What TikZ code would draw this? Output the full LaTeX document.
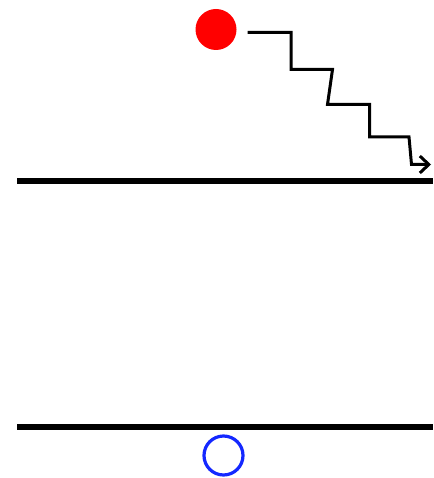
\documentclass[tikz,border=0pt]{standalone}
\usetikzlibrary{arrows.meta}
\begin{document}
\begin{tikzpicture}[x=1pt,y=-1pt,
  band/.style={line width=6pt},
  stair/.style={line width=3pt,-{Straight Barb[length=9pt,width=17pt,line width=3pt]}}]
\useasboundingbox (0,0) rectangle (433,478);
\fill[white] (0,0) rectangle (433,478);
\node[circle,fill=red,minimum size=41pt,inner sep=0pt] (e) at (216,29.5) {};
\node[circle,draw={rgb,255:red,20;green,40;blue,255},line width=3.2pt,minimum size=39pt,inner sep=0pt] (h) at (223.5,455.5) {};
\coordinate (tl) at (17,181.5);
\coordinate (tr) at (433,181.5);
\coordinate (bl) at (17,426.5);
\coordinate (br) at (433,426.5);
\draw[band] (tl) -- (tr);
\draw[band] (bl) -- (br);
\coordinate (s0) at (247.5,32.5);
\coordinate (s1) at (291,32.5);
\coordinate (s2) at (291,69.5);
\coordinate (s3) at (332.5,69.5);
\coordinate (s4) at (327.5,104.5);
\coordinate (s5) at (369.5,104.5);
\coordinate (s6) at (369.5,137);
\coordinate (s7) at (409,137);
\coordinate (s8) at (411.5,164.5);
\coordinate (s9) at (431,164.5);
\draw[stair,line join=miter] (s0) -- (s1) -- (s2) -- (s3) -- (s4) -- (s5) -- (s6) -- (s7) -- (s8) -- (s9);
\end{tikzpicture}
\end{document}
